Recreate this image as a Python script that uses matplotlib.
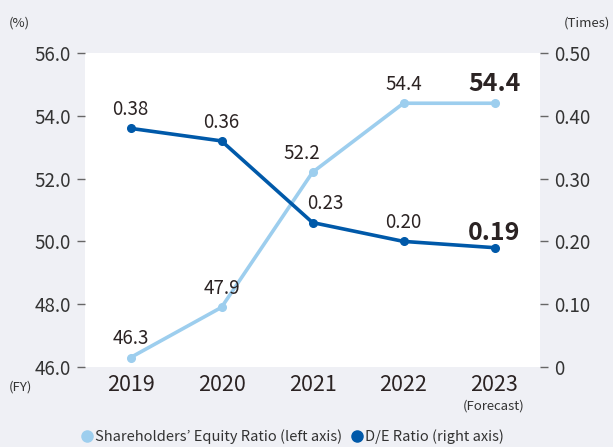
import matplotlib
matplotlib.use("Agg")
import matplotlib.pyplot as plt
from matplotlib.lines import Line2D

plt.rcParams['font.family'] = ['Noto Sans CJK JP', 'DejaVu Sans']

years = ["2019", "2020", "2021", "2022", "2023"]
equity_ratio = [46.3, 47.9, 52.2, 54.4, 54.4]
de_ratio = [0.38, 0.36, 0.23, 0.20, 0.19]
left_ticks = [46.0, 48.0, 50.0, 52.0, 54.0, 56.0]
right_ticks = [0, 0.10, 0.20, 0.30, 0.40, 0.50]
right_labels = ["0", "0.10", "0.20", "0.30", "0.40", "0.50"]

bg = "#EFF0F5"
light_blue = "#9DCEEE"
dark_blue = "#0059A9"
text_c = "#2B2323"
tick_c = "#333333"

fig = plt.figure(figsize=(6.13, 4.47), dpi=100, facecolor=bg)
ax = fig.add_axes([85/613, 1-367/447, 455/613, 314/447])
ax.set_facecolor("white")
ax2 = ax.twinx()

x = list(range(len(years)))
ax.plot(x, equity_ratio, color=light_blue, lw=2.6, marker='o', ms=5.5, zorder=3)
ax2.plot(x, de_ratio, color=dark_blue, lw=2.6, marker='o', ms=5.5, zorder=3)

ax.set_xlim(-0.5, 4.5)
ax.set_ylim(46, 56)
ax2.set_ylim(0, 0.5)
ax.set_xticks(x)
ax.set_xticklabels(years, fontsize=15.5, color=text_c)
ax.set_yticks(left_ticks)
ax.set_yticklabels([f"{v:.1f}" for v in left_ticks], fontsize=13.5, color=tick_c)
ax2.set_yticks(right_ticks)
ax2.set_yticklabels(right_labels, fontsize=13.5, color=tick_c)

for a in (ax, ax2):
    for s in a.spines.values():
        s.set_visible(False)
ax.tick_params(axis='y', length=6, width=1, color="#666666", pad=4)
ax2.tick_params(axis='y', length=6, width=1, color="#666666", pad=4)
ax.tick_params(axis='x', length=0, pad=5)

# annotations
eq_off = [(0, 6), (0, 6), (-8, 6), (0, 6), (0, 5)]
de_off = [(0, 6), (0, 6), (9, 6), (0, 6), (0, 2)]
for i, v in enumerate(equity_ratio):
    bold = i == len(years) - 1
    ax.annotate(f"{v:.1f}", (i, v), xytext=eq_off[i], textcoords='offset points',
                ha='center', va='bottom', fontsize=18 if bold else 13.5,
                fontweight='bold' if bold else 'normal', color=text_c)
for i, v in enumerate(de_ratio):
    bold = i == len(years) - 1
    ax2.annotate(f"{v:.2f}", (i, v), xytext=de_off[i], textcoords='offset points',
                 ha='center', va='bottom', fontsize=18 if bold else 13.5,
                 fontweight='bold' if bold else 'normal', color=text_c)

fig.text(9/613, 1-23/447, "(%)", fontsize=9.5, color=tick_c, ha='left', va='center')
fig.text(610/613, 1-23/447, "(Times)", fontsize=9.5, color=tick_c, ha='right', va='center')
fig.text(9/613, 1-387/447, "(FY)", fontsize=9.5, color=tick_c, ha='left', va='center')
fig.text(494/613, 1-406/447, "(Forecast)", fontsize=9.5, color=tick_c, ha='center', va='center')

handles = [
    Line2D([], [], ls='none', marker='o', ms=8, color=light_blue, label="Shareholders\u2019 Equity Ratio (left axis)"),
    Line2D([], [], ls='none', marker='o', ms=8, color=dark_blue, label="D/E Ratio (right axis)"),
]
fig.legend(handles=handles, loc='center', bbox_to_anchor=(292/613, 1-437/447), ncol=2,
           frameon=False, fontsize=10.5, handletextpad=0.05, columnspacing=0.5,
           handlelength=1.0, labelcolor=tick_c)

fig.savefig("out.png", dpi=100, facecolor=bg)
